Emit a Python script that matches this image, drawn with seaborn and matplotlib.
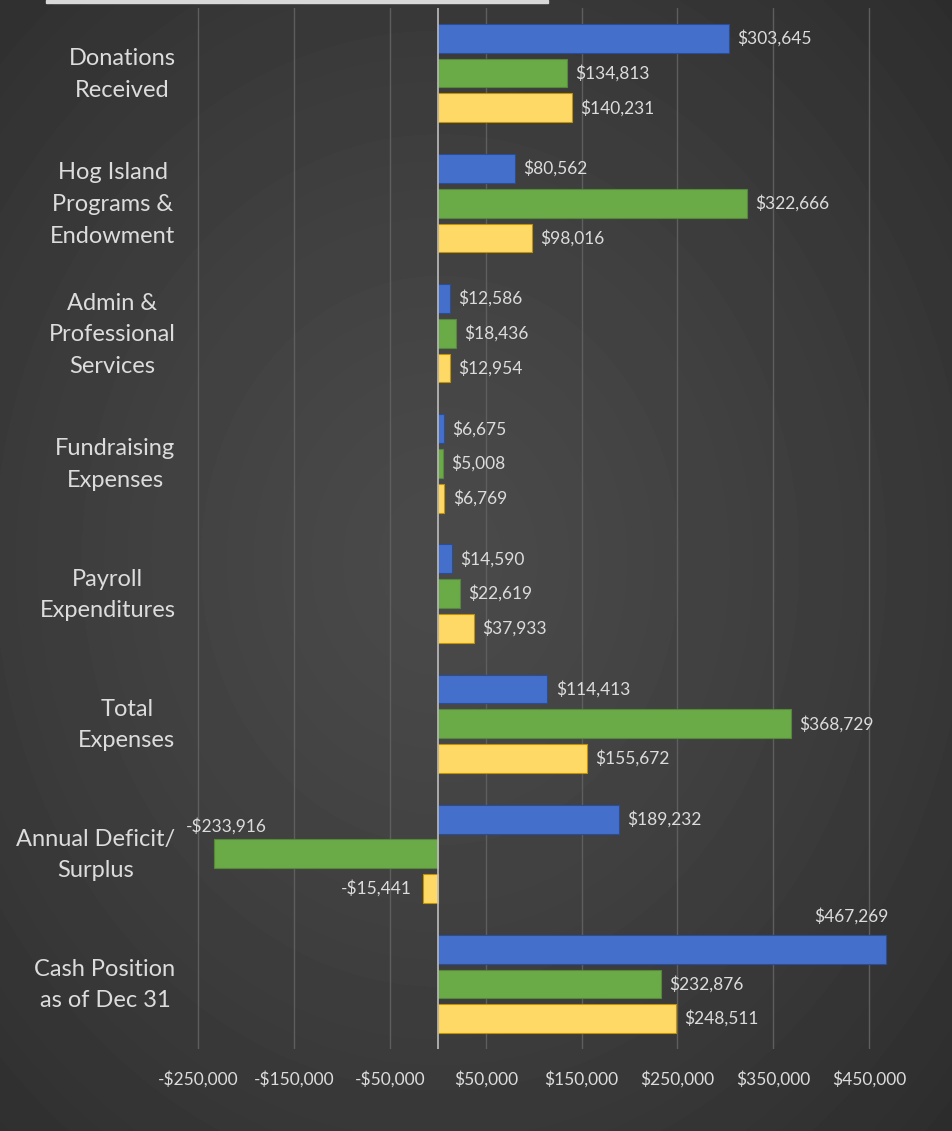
import numpy as np
import pandas as pd
import matplotlib
matplotlib.use("Agg")
import matplotlib.pyplot as plt
import matplotlib.transforms as mtransforms
from matplotlib.patches import Rectangle
import seaborn as sns

# chart data
categories = ["Donations\nReceived", "Hog Island\nPrograms &\nEndowment",
              "Admin &\nProfessional\nServices", "Fundraising\nExpenses",
              "Payroll\nExpenditures", "Total\nExpenses",
              "Annual Deficit/\nSurplus", "Cash Position\nas of Dec 31"]
series_names = ["Year 1", "Year 2", "Year 3"]
year1 = [303645, 80562, 12586, 6675, 14590, 114413, 189232, 467269]
year2 = [134813, 322666, 18436, 5008, 22619, 368729, -233916, 232876]
year3 = [140231, 98016, 12954, 6769, 37933, 155672, -15441, 248511]
xticks = [-250000, -150000, -50000, 50000, 150000, 250000, 350000, 450000]

colors = ["#4470cc", "#6aaa47", "#ffd966"]
txt = "#dcdcdc"

df = pd.DataFrame({"category": categories * 3,
                   "series": sum([[s] * len(categories) for s in series_names], []),
                   "value": year1 + year2 + year3})

sns.set_theme(style="dark")
plt.rcParams['font.family'] = ['Lato', 'DejaVu Sans']

fig = plt.figure(figsize=(9.52, 11.31), dpi=100)

# radial dark background
bg = fig.add_axes([0, 0, 1, 1], zorder=0)
yy, xx = np.mgrid[0:1131, 0:952]
r = np.sqrt(((xx - 440) / 952.0) ** 2 + ((yy - 560) / 1131.0) ** 2)
shade = np.clip(0.29 - 0.17 * r ** 1.3, 0.165, 0.29)
bg.imshow(shade, cmap="gray", vmin=0, vmax=1, aspect="auto", extent=[0, 1, 0, 1])
bg.set_axis_off()
fig.patches.append(Rectangle((46 / 952, 1 - 3 / 1131), 502 / 952, 3 / 1131,
                             transform=fig.transFigure, color="#d8d8d8", zorder=5))

ax = fig.add_axes([0.2033, 0.0725, 0.7397, 0.9204], zorder=1)
ax.set_facecolor("none")

sns.barplot(data=df, y="category", x="value", hue="series", orient="h",
            palette=colors, saturation=1, width=0.8, gap=0.17, legend=False,
            ax=ax, edgecolor="none", zorder=3)

for c, col in zip(ax.containers, colors):
    for bar in c:
        bar.set_edgecolor(sns.set_hls_values(col, l=0.38))
        bar.set_linewidth(0.8)
        w = bar.get_width()
        yc = bar.get_y() + bar.get_height() / 2
        lab = f"-${abs(w):,.0f}" if w < 0 else f"${w:,.0f}"
        if w > 400000:
            ax.annotate(lab, (w, yc), xytext=(2, 24), textcoords="offset points",
                        ha="right", va="center", color=txt, fontsize=12.5)
        elif w < -200000:
            ax.annotate(lab, (w, yc), xytext=(-20, 20), textcoords="offset points",
                        ha="left", va="center", color=txt, fontsize=12.5)
        elif w < 0:
            ax.annotate(lab, (w, yc), xytext=(-8, 0), textcoords="offset points",
                        ha="right", va="center", color=txt, fontsize=12.5)
        else:
            ax.annotate(lab, (w, yc), xytext=(6, 0), textcoords="offset points",
                        ha="left", va="center", color=txt, fontsize=12.5)

ax.set_xlim(-255000, 480000)
ax.set_ylim(7.5, -0.5)
ax.set_xticks(xticks)
ax.set_xticklabels([f"-${abs(v):,.0f}" if v < 0 else f"${v:,.0f}" for v in xticks])
ax.grid(axis="x", color="#5e5e5e", linewidth=1.0, zorder=0)
ax.grid(axis="y", visible=False)
ax.axvline(0, color="#bdbdbd", linewidth=1.2, zorder=4)
ax.tick_params(axis="x", length=0, pad=16, colors=txt, labelsize=12.5)
ax.tick_params(axis="y", length=0, pad=13, colors=txt, labelsize=17)
shift = mtransforms.ScaledTranslation(0, 6 / 100, fig.dpi_scale_trans)
for tk in ax.yaxis.get_major_ticks():
    t = tk.label1
    t.set_multialignment("center")
    t.set_linespacing(1.62)
    t.set_transform(t.get_transform() + shift)
ax.set_xlabel("")
ax.set_ylabel("")
for s in ax.spines.values():
    s.set_visible(False)

fig.savefig("out.png", dpi=100)
